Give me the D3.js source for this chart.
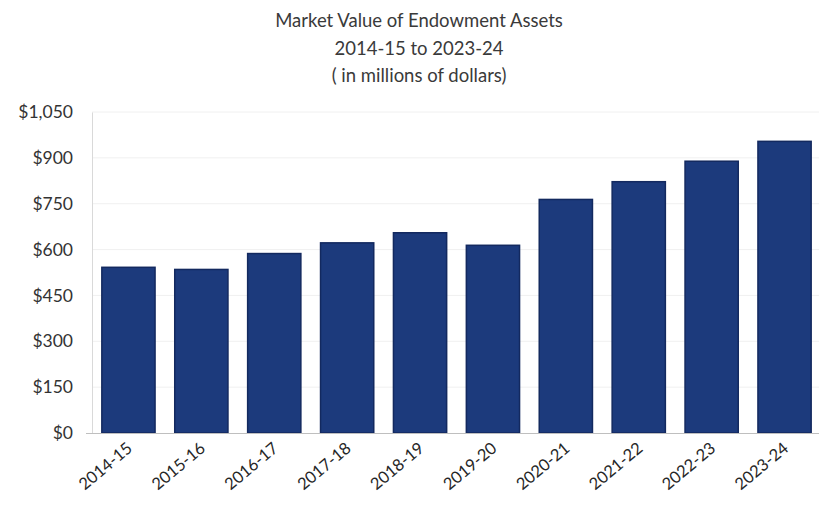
<!DOCTYPE html>
<html>
<head>
<meta charset="utf-8">
<script src="https://cdn.jsdelivr.net/npm/d3@7"></script>
<style>
  html, body { margin: 0; padding: 0; background: #ffffff; }
  svg { display: block; }
  text { font-family: Lato, "Open Sans", sans-serif; }
</style>
</head>
<body>
<script>
// Fiscal years and endowment market values (millions of dollars)
const years = ["2014-15", "2015-16", "2016-17", "2017-18", "2018-19",
               "2019-20", "2020-21", "2021-22", "2022-23", "2023-24"];
const values = [542, 535, 587, 622, 655, 614, 764, 822, 889, 954];
const yTicks = [0, 150, 300, 450, 600, 750, 900, 1050];
const titleLines = ["Market Value of Endowment Assets", "2014-15 to 2023-24", "( in millions of dollars)"];

const W = 819, H = 513;
const plot = { left: 92, right: 821, top: 112, bottom: 433 };

const svg = d3.select("body").append("svg")
  .attr("width", W).attr("height", H);

svg.append("rect").attr("width", W).attr("height", H).attr("fill", "#ffffff");

const x = d3.scaleBand()
  .domain(years)
  .range([plot.left, plot.right])
  .paddingInner(0.27)
  .paddingOuter(0.135);

const y = d3.scaleLinear()
  .domain([0, 1050])
  .range([plot.bottom, plot.top]);

// Title
svg.append("g").selectAll("text")
  .data(titleLines)
  .join("text")
  .attr("x", 419)
  .attr("y", (d, i) => 27 + i * 27.5)
  .attr("text-anchor", "middle")
  .attr("font-size", 18.5)
  .attr("fill", "#3a3a3a")
  .text(d => d);

// Horizontal gridlines
svg.append("g").selectAll("line")
  .data(yTicks.filter(t => t > 0))
  .join("line")
  .attr("x1", plot.left).attr("x2", W)
  .attr("y1", d => y(d)).attr("y2", d => y(d))
  .attr("stroke", "#f0f0f0")
  .attr("stroke-width", 1);

// Y axis
const yAxis = svg.append("g")
  .attr("transform", `translate(${plot.left},0)`)
  .call(d3.axisLeft(y)
    .tickValues(yTicks)
    .tickSize(0)
    .tickPadding(19)
    .tickFormat(d => "$" + d3.format(",")(d)));
yAxis.select(".domain").attr("stroke", "#d9d9d9");
yAxis.selectAll("text")
  .attr("font-size", 17.5)
  .attr("fill", "#333333");

// Bars
svg.append("g").selectAll("rect")
  .data(years.map((yr, i) => ({ yr, v: values[i] })))
  .join("rect")
  .attr("x", d => x(d.yr))
  .attr("y", d => y(d.v))
  .attr("width", x.bandwidth())
  .attr("height", d => y(0) - y(d.v))
  .attr("fill", "#1c3a7c")
  .attr("stroke", "#13295f")
  .attr("stroke-width", 1.5);

// X axis
const xAxis = svg.append("g")
  .attr("transform", `translate(0,${plot.bottom})`)
  .call(d3.axisBottom(x).tickSize(0).tickPadding(0));
xAxis.select(".domain").attr("stroke", "#bfbfbf").attr("d", `M${plot.left - 6},0.5H${W}`);
xAxis.selectAll("text")
  .attr("font-size", 16.5)
  .attr("fill", "#262626")
  .attr("text-anchor", "end")
  .attr("dy", 0)
  .attr("transform", "translate(5,17) rotate(-40)");
</script>
</body>
</html>
